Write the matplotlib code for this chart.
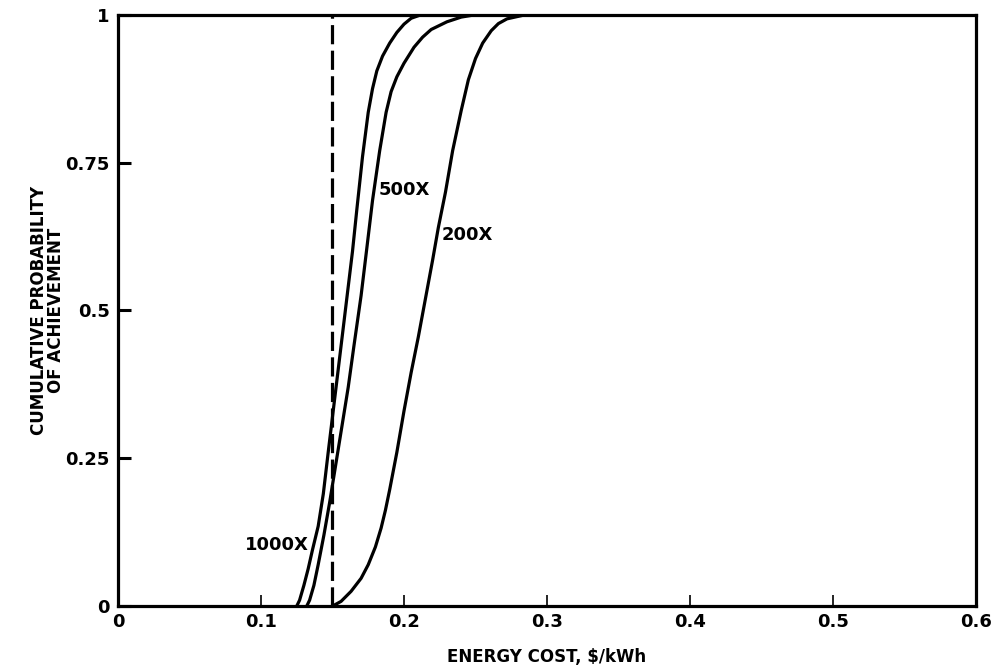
import matplotlib.pyplot as plt

# values
cost_1000 = [0.125, 0.127, 0.130, 0.133, 0.136, 0.140, 0.1436, 0.147, 0.151, 0.155, 0.160, 0.164, 0.167,
             0.171, 0.175, 0.178, 0.181, 0.185, 0.190, 0.195, 0.200, 0.205, 0.212]
prob_1000 = [0.0, 0.01, 0.035, 0.063, 0.095, 0.135, 0.19, 0.26, 0.34, 0.42, 0.52, 0.60, 0.67,
             0.76, 0.835, 0.875, 0.905, 0.93, 0.952, 0.97, 0.984, 0.994, 1.0]

cost_500 = [0.132, 0.134, 0.137, 0.140, 0.144, 0.148, 0.152, 0.156, 0.161, 0.165, 0.170, 0.174, 0.178,
            0.183, 0.1875, 0.191, 0.195, 0.200, 0.207, 0.213, 0.219, 0.230, 0.240, 0.250]
prob_500 = [0.0, 0.01, 0.035, 0.07, 0.12, 0.175, 0.235, 0.295, 0.37, 0.44, 0.525, 0.605, 0.686,
            0.77, 0.835, 0.87, 0.895, 0.918, 0.945, 0.962, 0.975, 0.988, 0.996, 1.0]

cost_200 = [0.150, 0.156, 0.163, 0.170, 0.175, 0.180, 0.184, 0.187, 0.190, 0.195, 0.200, 0.205, 0.210,
            0.215, 0.220, 0.224, 0.229, 0.234, 0.240, 0.245, 0.250, 0.255, 0.261, 0.266, 0.272, 0.285]
prob_200 = [0.0, 0.008, 0.025, 0.047, 0.07, 0.10, 0.132, 0.162, 0.197, 0.26, 0.33, 0.395, 0.455,
            0.52, 0.585, 0.64, 0.70, 0.77, 0.838, 0.89, 0.926, 0.952, 0.973, 0.985, 0.993, 1.0]

target_cost = 0.15

x_ticks = [0, 0.1, 0.2, 0.3, 0.4, 0.5, 0.6]
x_tick_labels = ['0', '0.1', '0.2', '0.3', '0.4', '0.5', '0.6']
y_ticks = [0, 0.25, 0.5, 0.75, 1]
y_tick_labels = ['0', '0.25', '0.5', '0.75', '1']

plt.rcParams['font.family'] = ['DejaVu Sans']
plt.rcParams['font.weight'] = 'bold'

fig = plt.figure(figsize=(9.91, 6.69), dpi=100)
ax = fig.add_axes([0.119, 0.094, 0.866, 0.884])

ax.plot(cost_1000, prob_1000, color='black', lw=2.3)
ax.plot(cost_500, prob_500, color='black', lw=2.3)
ax.plot(cost_200, prob_200, color='black', lw=2.3)
ax.axvline(target_cost, color='black', lw=2.3, dashes=(6, 2))

ax.text(0.089, 0.103, '1000X', fontsize=13, fontweight='bold', va='center', ha='left')
ax.text(0.182, 0.703, '500X', fontsize=13, fontweight='bold', va='center', ha='left')
ax.text(0.226, 0.627, '200X', fontsize=13, fontweight='bold', va='center', ha='left')

ax.set_xlim(0, 0.6)
ax.set_ylim(0, 1)
ax.set_xticks(x_ticks)
ax.set_xticklabels(x_tick_labels, fontweight='bold')
ax.set_yticks(y_ticks)
ax.set_yticklabels(y_tick_labels, fontweight='bold')
ax.tick_params(axis='x', direction='in', length=8, width=1.2, labelsize=13, pad=5)
ax.tick_params(axis='y', direction='in', length=9, width=2.2, labelsize=13, pad=6)
for s in ax.spines.values():
    s.set_linewidth(2.3)

ax.set_xlabel('ENERGY COST, $/kWh', fontsize=12, fontweight='bold', labelpad=12)
ax.set_ylabel('CUMULATIVE PROBABILITY\nOF ACHIEVEMENT', fontsize=12, fontweight='bold', labelpad=0, linespacing=0.95)

plt.savefig('out.png', dpi=100)
